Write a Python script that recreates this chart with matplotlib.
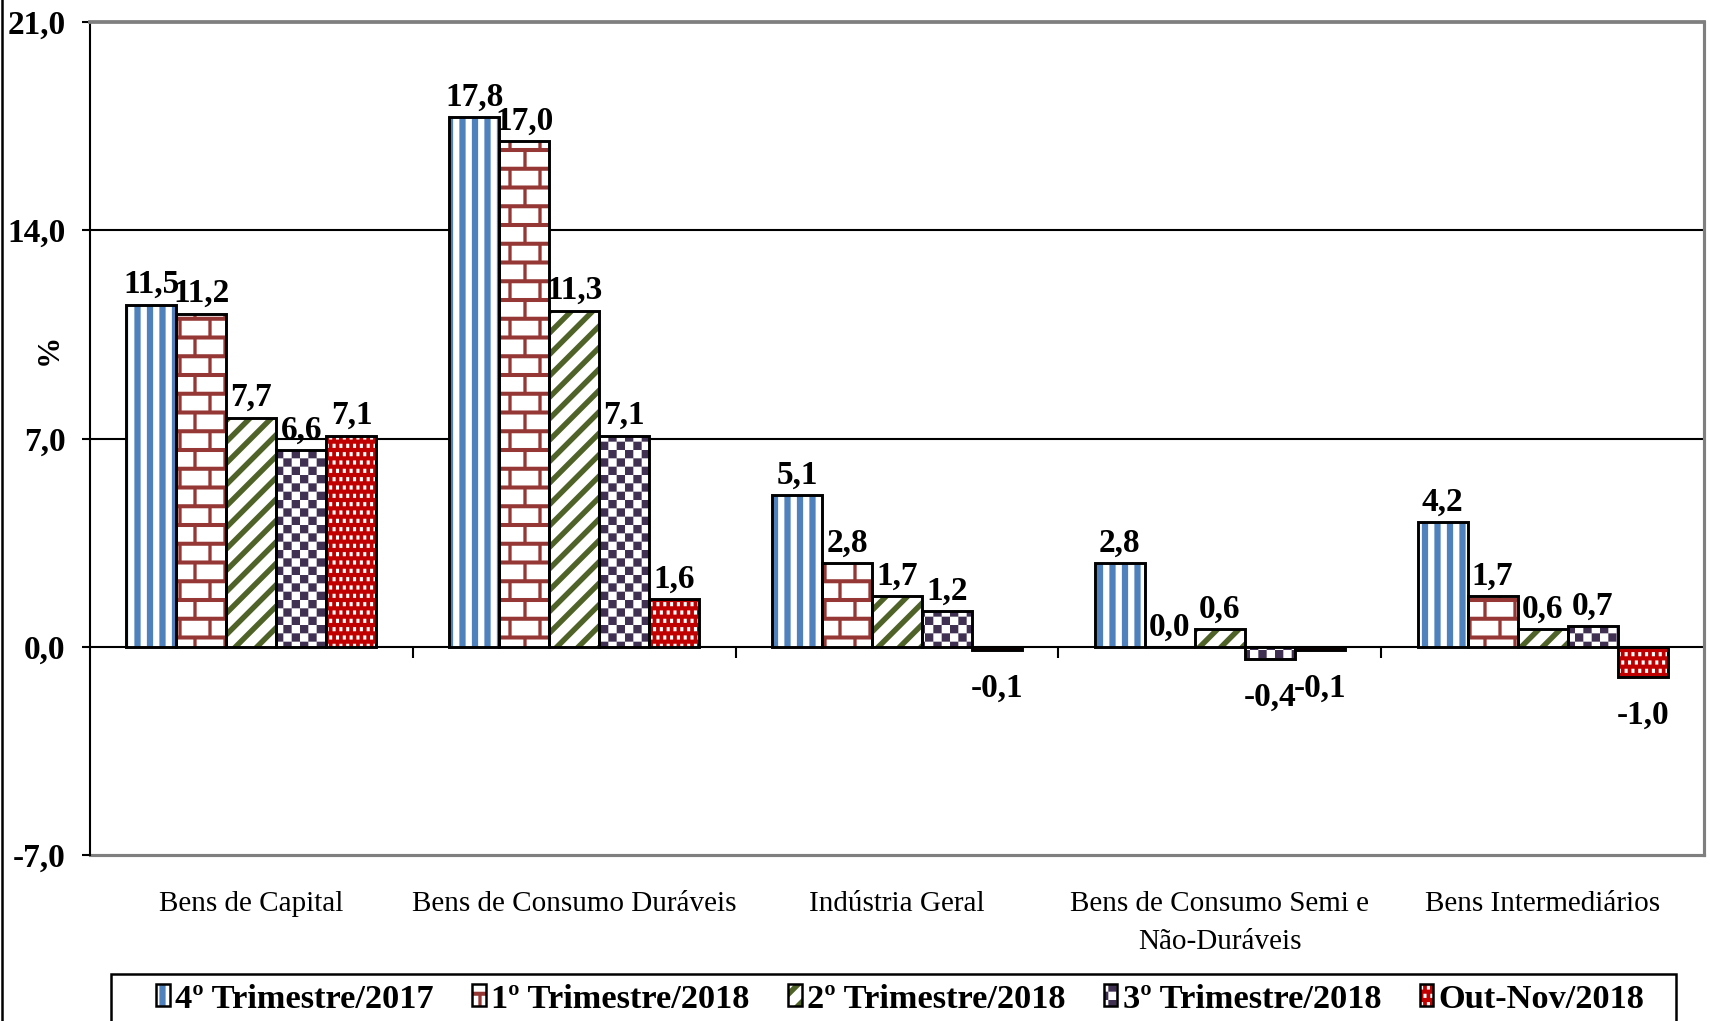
import warnings
warnings.filterwarnings("ignore")
import numpy as np
import matplotlib
matplotlib.use("Agg")
import matplotlib.pyplot as plt
import matplotlib.hatch as mhatch
import matplotlib.transforms as mtrans
from matplotlib.path import Path
from matplotlib.patches import Patch, Rectangle
from matplotlib.lines import Line2D
from matplotlib.legend_handler import HandlerTuple

# ---------------- data ----------------
categories = ["Bens de Capital", "Bens de Consumo Duráveis", "Indústria Geral",
              "Bens de Consumo Semi e\nNão-Duráveis", "Bens Intermediários"]
series_names = ["4º Trimestre/2017", "1º Trimestre/2018", "2º Trimestre/2018",
                "3º Trimestre/2018", "Out-Nov/2018"]
q4_2017 = [11.5, 17.8, 5.1, 2.8, 4.2]
q1_2018 = [11.2, 17.0, 2.8, 0.0, 1.7]
q2_2018 = [7.7, 11.3, 1.7, 0.6, 0.6]
q3_2018 = [6.6, 7.1, 1.2, -0.4, 0.7]
outnov_2018 = [7.1, 1.6, -0.1, -0.1, -1.0]
all_series = [q4_2017, q1_2018, q2_2018, q3_2018, outnov_2018]
yticks = [-7.0, 0.0, 7.0, 14.0, 21.0]


# ---------------- custom hatch patterns ----------------
def rect(x0, y0, x1, y1):
    return [(x0, y0), (x1, y0), (x1, y1), (x0, y1)]


class _PolyHatch(mhatch.HatchPatternBase):
    char = "?"

    def __init__(self, hatch, density):
        self.polys = self.make() if (hatch and self.char in hatch) else []
        self.num_vertices = sum(len(p) + 1 for p in self.polys)

    def make(self):
        return []

    def set_vertices_and_codes(self, vertices, codes):
        i = 0
        for p in self.polys:
            p = np.asarray(p, float)
            n = len(p)
            vertices[i:i + n] = p
            vertices[i + n] = p[0]
            codes[i] = Path.MOVETO
            codes[i + 1:i + n] = Path.LINETO
            codes[i + n] = Path.CLOSEPOLY
            i += n + 1


class StripeHatch(_PolyHatch):
    char = "V"

    def make(self):
        n = 12
        w = 0.5 / n
        return [rect(k / n - w / 2, -0.05, k / n + w / 2, 1.05) for k in range(n + 1)]


class DiagHatch(_PolyHatch):
    char = "G"

    def make(self):
        n = 7
        w = 0.36 / n
        polys = []
        for k in range(-n - 2, n + 2):
            c = k / n
            polys.append([(-0.1 + c, -0.1), (1.1 + c, 1.1),
                          (1.1 + c + w, 1.1), (-0.1 + c + w, -0.1)])
        return polys


class BrickHatch(_PolyHatch):
    char = "B"

    def make(self):
        rows, cols = 8, 5
        h, w = 1 / rows, 1 / cols
        th, tv = 0.027, 0.022
        polys = []
        for r in range(rows + 1):
            polys.append(rect(-0.05, r * h - th / 2, 1.05, r * h + th / 2))
        for r in range(rows):
            off = 0.5 * w * (r % 2)
            for k in range(cols + 1):
                xx = k * w + off
                polys.append(rect(xx - tv / 2, r * h + th / 2, xx + tv / 2, (r + 1) * h - th / 2))
        return polys


class CheckHatch(_PolyHatch):
    char = "K"

    def make(self):
        n = 18
        s = 1 / n
        return [rect(i * s, j * s, (i + 1) * s, (j + 1) * s)
                for i in range(n) for j in range(n) if (i + j) % 2 == 0]


class DotHatch(_PolyHatch):
    char = "D"

    def make(self):
        nx, ny = 22, 18
        sx, sy = 1 / nx, 1 / ny
        dx, dy = 0.45 * sx, 0.5 * sy
        polys = []
        for j in range(ny):
            off = 0.5 * sx * (j % 2)
            for i in range(nx + 1):
                cx = i * sx + off
                cy = (j + 0.5) * sy
                polys.append(rect(cx - dx / 2, cy - dy / 2, cx + dx / 2, cy + dy / 2))
        return polys


mhatch._hatch_types.extend([StripeHatch, DiagHatch, BrickHatch, CheckHatch, DotHatch])
mhatch._validate_hatch_pattern = lambda h: None
plt.rcParams["hatch.linewidth"] = 0.0

styles = [
    dict(bg="white", hc="#4F81BD", hatch="V"),
    dict(bg="white", hc="#953735", hatch="B"),
    dict(bg="white", hc="#4F6228", hatch="G"),
    dict(bg="white", hc="#403152", hatch="K"),
    dict(bg="#C00000", hc="white", hatch="D"),
]

SERIF = ["Liberation Serif", "DejaVu Serif"]

# ---------------- figure ----------------
W, H = 1710, 1021
DPI = 150
fig = plt.figure(figsize=(W / DPI, H / DPI), dpi=DPI)
ax_l, ax_r, ax_t, ax_b = 90, 1704, 22, 855
ax = fig.add_axes([ax_l / W, 1 - ax_b / H, (ax_r - ax_l) / W, (ax_b - ax_t) / H])

x = np.arange(len(categories))
bw = 0.155

handles = []
for i, (name, vals) in enumerate(zip(series_names, all_series)):
    st = styles[i]
    xpos = x + (i - 2) * bw
    ax.bar(xpos, vals, bw, color=st["bg"], edgecolor=st["hc"], hatch=st["hatch"],
           linewidth=0, zorder=3)
    ax.bar(xpos, vals, bw, facecolor="none", edgecolor="black", linewidth=1.4, zorder=4)
    for xp, v in zip(xpos, vals):
        lbl = f"{v:.1f}".replace(".", ",")
        if v >= 0:
            ax.annotate(lbl, (xp, v), xytext=(0, 5.5), textcoords="offset points",
                        ha="center", va="baseline", fontsize=16, fontweight="bold",
                        family=SERIF, zorder=5)
        else:
            ax.annotate(lbl, (xp, v), xytext=(0, -11), textcoords="offset points",
                        ha="center", va="top", fontsize=16, fontweight="bold",
                        family=SERIF, zorder=5)
    p1 = Patch(facecolor=st["bg"], edgecolor=st["hc"], hatch=st["hatch"], linewidth=0)
    p2 = Patch(facecolor="none", edgecolor="black", linewidth=1.2)
    handles.append((p1, p2))

ax.set_xlim(-0.5, len(categories) - 0.5)
ax.set_ylim(-7, 21)
ax.set_yticks(yticks)
ax.set_yticklabels([f"{t:.1f}".replace(".", ",") for t in yticks],
                   fontsize=16, fontweight="bold", family=SERIF)
ax.tick_params(axis="y", direction="out", length=3.8, width=1, pad=8, color="black")

# gridlines
for g in [7, 14]:
    ax.axhline(g, color="black", linewidth=1.0, zorder=1)

# spines
ax.spines["left"].set_color("black")
ax.spines["left"].set_linewidth(1.0)
ax.spines["top"].set_color("#7F7F7F")
ax.spines["top"].set_linewidth(1.8)
ax.spines["right"].set_color("#7F7F7F")
ax.spines["right"].set_linewidth(1.5)
ax.spines["bottom"].set_position(("data", 0))
ax.spines["bottom"].set_color("black")
ax.spines["bottom"].set_linewidth(1.0)
ax.spines["bottom"].set_zorder(2)
ax.axhline(-7, color="#7F7F7F", linewidth=1.5, clip_on=False, zorder=1)

ax.set_xticks(np.arange(len(categories) - 1) + 0.5)
ax.set_xticklabels([])
ax.tick_params(axis="x", direction="out", length=5.5, width=1, color="black")

# category labels
trans = mtrans.blended_transform_factory(ax.transData, ax.transAxes)
for xi, c in zip(x, categories):
    ax.text(xi, -0.043, c, transform=trans, ha="center", va="top", fontsize=14,
            family=SERIF, linespacing=1.6)

# y label
ytrans = mtrans.blended_transform_factory(ax.transAxes, ax.transData)
ax.text((49 - ax_l) / (ax_r - ax_l), 10.0, "%", transform=ytrans, rotation=90,
        ha="center", va="center", fontsize=15, fontweight="bold", family=SERIF)

# legend (frame drawn separately so it can run off the bottom edge)
leg = fig.legend(handles, series_names, handler_map={tuple: HandlerTuple(ndivide=1, pad=0)},
                 loc="center left", bbox_to_anchor=(156 / W, 1 - 999 / H),
                 ncol=5, frameon=False, borderaxespad=0, borderpad=0,
                 prop=dict(family=SERIF, weight="bold", size=16.5),
                 handlelength=0.4, handleheight=0.6, handletextpad=0.15,
                 columnspacing=1.12)
lx0, lx1, ltop = 111, 1676, 974
fig.add_artist(Rectangle((lx0 / W, -0.05), (lx1 - lx0) / W, (1 - ltop / H) + 0.05,
                         transform=fig.transFigure, fill=False, edgecolor="black",
                         linewidth=1.2, clip_on=False))

# outer frame line on the left
fig.add_artist(Line2D([1.5 / W, 1.5 / W], [0, 1], transform=fig.transFigure,
                      color="black", linewidth=1.2))

fig.savefig("out.png", dpi=DPI)
